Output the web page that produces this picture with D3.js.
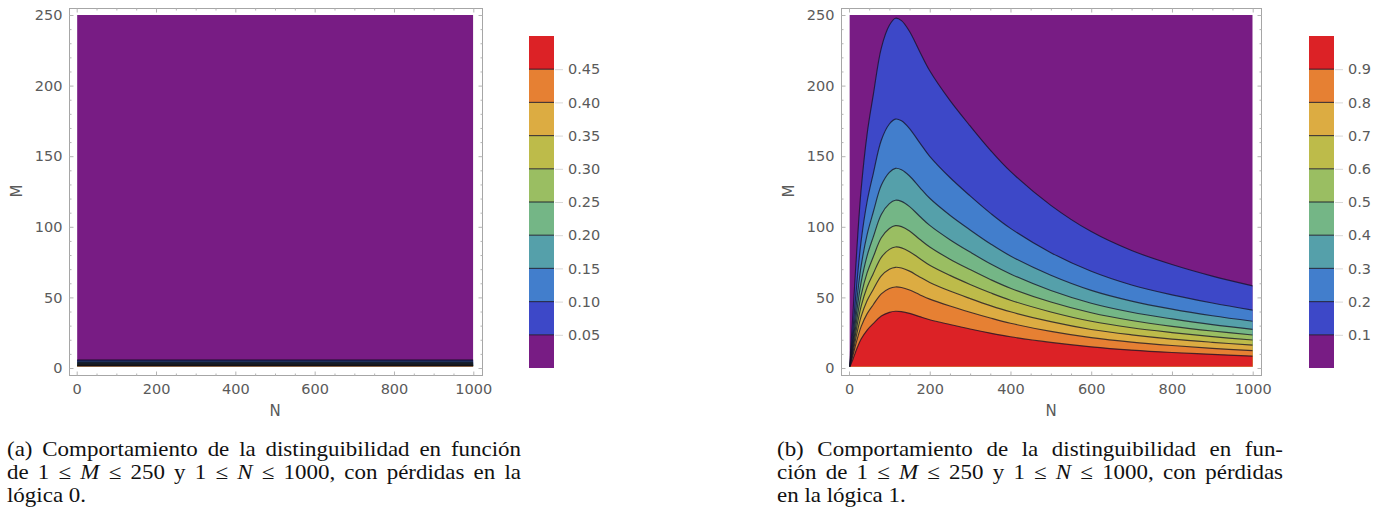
<!DOCTYPE html>
<html>
<head>
<meta charset="utf-8">
<script src="https://cdn.jsdelivr.net/npm/d3@7"></script>
<style>
  html, body { margin: 0; padding: 0; background: #fff; }
  svg { display: block; }
</style>
</head>
<body>
<script>
// ---------- data ----------
// N positions at which every contour of panel (b) is sampled
const nSamples = [1, 5, 10, 20, 30, 45, 60, 80, 100, 115, 130, 150, 175, 200, 250, 300, 350, 400, 500, 600, 700, 800, 900, 1000];

// Panel (b): M value of each contour level along nSamples
const levelB10 = [0, 17.3, 39.6, 86.7, 126.3, 166.0, 193.2, 226.6, 242.7, 247.7, 246.0, 238.3, 224.2, 210.5, 189.5, 171.4, 154.3, 139.2, 115.2, 96.6, 83.2, 73.3, 65.1, 58.2];
const levelB20 = [0, 12.3, 28.2, 61.7, 89.9, 118.1, 137.5, 161.3, 172.8, 176.3, 175.1, 169.6, 159.6, 149.9, 134.9, 121.9, 109.7, 98.9, 81.7, 68.5, 58.8, 51.8, 46.0, 41.0];
const levelB30 = [0, 9.9, 22.6, 49.5, 72.1, 94.7, 110.3, 129.4, 138.6, 141.4, 140.4, 136.0, 128.0, 120.2, 108.2, 97.8, 88.0, 79.3, 65.7, 55.0, 47.4, 41.7, 37.0, 33.1];
const levelB40 = [0, 8.3, 19.0, 41.6, 60.6, 79.6, 92.7, 108.7, 116.4, 118.8, 118.0, 114.3, 107.5, 101.0, 90.9, 82.1, 73.8, 66.6, 54.9, 45.9, 39.5, 34.8, 30.7, 27.4];
const levelB50 = [0, 7.1, 16.1, 35.3, 51.4, 67.5, 78.6, 92.2, 98.8, 100.8, 100.1, 97.0, 91.2, 85.7, 77.1, 69.7, 62.7, 56.5, 46.7, 39.1, 33.6, 29.5, 26.2, 23.4];
const levelB60 = [0, 6.0, 13.7, 30.0, 43.7, 57.4, 66.8, 78.4, 84.0, 85.7, 85.1, 82.4, 77.6, 72.8, 65.6, 59.2, 53.3, 48.0, 39.7, 33.1, 28.5, 25.1, 22.2, 19.8];
const levelB70 = [0, 5.0, 11.4, 25.0, 36.4, 47.8, 55.6, 65.2, 69.9, 71.3, 70.8, 68.6, 64.5, 60.6, 54.5, 49.2, 44.2, 39.8, 32.8, 27.3, 23.5, 20.5, 18.2, 16.2];
const levelB80 = [0, 4.0, 9.2, 20.1, 29.3, 38.5, 44.8, 52.5, 56.3, 57.4, 57.0, 55.2, 51.9, 48.8, 43.9, 39.5, 35.4, 31.7, 25.9, 21.5, 18.3, 15.9, 13.9, 12.3];
const levelB90 = [0, 2.8, 6.4, 14.1, 20.5, 26.9, 31.4, 36.8, 39.4, 40.2, 39.9, 38.7, 36.4, 34.2, 30.8, 27.6, 24.7, 22.1, 18.1, 15.0, 12.7, 11.0, 9.7, 8.4];

// Panel (a): the contours do not depend on N, they are flat in M
const nSpanA = [1, 1000];
const levelA05 = [5.6, 5.6];
const levelA10 = [4.8, 4.8];
const levelA15 = [3.9, 3.9];
const levelA20 = [3.2, 3.2];
const levelA25 = [2.6, 2.6];
const levelA30 = [2.1, 2.1];
const levelA35 = [1.75, 1.75];
const levelA40 = [1.45, 1.45];
const levelA45 = [1.2, 1.2];

// Colour legend ticks
const legendTicksA = [0.05, 0.10, 0.15, 0.20, 0.25, 0.30, 0.35, 0.40, 0.45];
const legendTicksB = [0.1, 0.2, 0.3, 0.4, 0.5, 0.6, 0.7, 0.8, 0.9];

// Axis ticks
const mTicks = [0, 50, 100, 150, 200, 250];
const nTicks = [0, 200, 400, 600, 800, 1000];

// Rainbow bands, lowest value first
const bandColors = ["#781c84", "#3d48c8", "#427ecc", "#55a0aa", "#74b686",
                    "#9abe62", "#bdbb4a", "#dcac42", "#e68033", "#dc2226"];

// ---------- drawing ----------
const W = 1394, H = 516;
const svg = d3.select("body").append("svg").attr("width", W).attr("height", H);

const labelFont = "'DejaVu Sans', 'Liberation Sans', sans-serif";
const labelColor = "#5a5a5a";
const tickColor = "#b4b4b4";
const contourStroke = "rgba(20,16,36,0.75)";

const panels = [
  {
    id: "a",
    xRange: [76.7, 473.3],
    frame: { x0: 69, y0: 8, x1: 482, y1: 375 },
    mFloor: 1.2,
    nValues: nSpanA,
    contours: [levelA05, levelA10, levelA15, levelA20, levelA25, levelA30, levelA35, levelA40, levelA45],
    lineStroke: "rgba(12,10,24,0.85)",
    legend: { x: 529, domain: [0, 0.5], ticks: legendTicksA, fmt: d3.format(".2f") },
    mTitleX: 22, nTitleX: 275
  },
  {
    id: "b",
    xRange: [849, 1252.7],
    frame: { x0: 841, y0: 8, x1: 1261, y1: 375 },
    mFloor: 1,
    nValues: nSamples,
    contours: [levelB10, levelB20, levelB30, levelB40, levelB50, levelB60, levelB70, levelB80, levelB90],
    lineStroke: contourStroke,
    legend: { x: 1309, domain: [0, 1], ticks: legendTicksB, fmt: d3.format(".1f") },
    mTitleX: 794, nTitleX: 1051
  }
];

panels.forEach(p => {
  const x = d3.scaleLinear().domain([0, 1000]).range(p.xRange);
  const y = d3.scaleLinear().domain([0, 250]).range([368, 15]);
  const g = svg.append("g");

  // plotting region (N from 1 to 1000, M from about 1 to 250)
  const clipId = "clip-" + p.id;
  g.append("clipPath").attr("id", clipId)
    .append("rect")
    .attr("x", x(1)).attr("y", y(250))
    .attr("width", x(1000) - x(1)).attr("height", y(p.mFloor) - y(250));

  const plot = g.append("g").attr("clip-path", `url(#${clipId})`);
  plot.append("rect")
    .attr("x", x(1)).attr("y", y(250))
    .attr("width", x(1000) - x(1)).attr("height", y(p.mFloor) - y(250))
    .attr("fill", bandColors[0]);

  const pts = arr => arr.map((m, i) => [p.nValues[i], m]);
  const curve = d3.curveCatmullRom.alpha(0.5);

  const area = d3.area()
    .x(d => x(d[0])).y0(y(0)).y1(d => y(d[1]))
    .curve(curve);
  const line = d3.line()
    .x(d => x(d[0])).y(d => y(d[1]))
    .curve(curve);

  p.contours.forEach((c, i) => {
    plot.append("path").attr("d", area(pts(c))).attr("fill", bandColors[i + 1]);
  });
  p.contours.forEach(c => {
    plot.append("path").attr("d", line(pts(c)))
      .attr("fill", "none")
      .attr("stroke", p.lineStroke)
      .attr("stroke-width", 1.15);
  });

  // frame
  const f = p.frame;
  g.append("rect")
    .attr("x", f.x0 + 0.5).attr("y", f.y0 + 0.5)
    .attr("width", f.x1 - f.x0).attr("height", f.y1 - f.y0)
    .attr("fill", "none").attr("stroke", "#a6a6a6").attr("stroke-width", 1);

  const styleAxis = sel => {
    sel.select(".domain").remove();
    sel.selectAll("line").attr("stroke", tickColor);
    sel.selectAll("text").attr("fill", labelColor)
      .style("font-family", labelFont).style("font-size", "14.5px");
  };
  const mMinor = d3.range(0, 251, 10).filter(v => v % 50 !== 0);
  const nMinor = d3.range(0, 1001, 50).filter(v => v % 200 !== 0);
  const intFmt = d3.format("d");

  // left and bottom ticks with labels
  g.append("g").attr("transform", `translate(${f.x0 + 0.5},0)`)
    .call(d3.axisLeft(y).tickValues(mTicks).tickFormat(intFmt).tickSize(-4).tickPadding(7)).call(styleAxis);
  g.append("g").attr("transform", `translate(${f.x0 + 0.5},0)`)
    .call(d3.axisLeft(y).tickValues(mMinor).tickSize(-2).tickFormat("")).call(styleAxis);
  g.append("g").attr("transform", `translate(0,${f.y1 + 0.5})`)
    .call(d3.axisBottom(x).tickValues(nTicks).tickFormat(intFmt).tickSize(-4).tickPadding(8)).call(styleAxis);
  g.append("g").attr("transform", `translate(0,${f.y1 + 0.5})`)
    .call(d3.axisBottom(x).tickValues(nMinor).tickSize(-2).tickFormat("")).call(styleAxis);
  // right and top ticks without labels
  g.append("g").attr("transform", `translate(${f.x1 + 0.5},0)`)
    .call(d3.axisRight(y).tickValues(mTicks).tickSize(-4).tickFormat("")).call(styleAxis);
  g.append("g").attr("transform", `translate(${f.x1 + 0.5},0)`)
    .call(d3.axisRight(y).tickValues(mMinor).tickSize(-2).tickFormat("")).call(styleAxis);
  g.append("g").attr("transform", `translate(0,${f.y0 + 0.5})`)
    .call(d3.axisTop(x).tickValues(nTicks).tickSize(-4).tickFormat("")).call(styleAxis);
  g.append("g").attr("transform", `translate(0,${f.y0 + 0.5})`)
    .call(d3.axisTop(x).tickValues(nMinor).tickSize(-2).tickFormat("")).call(styleAxis);

  // axis titles
  g.append("text")
    .attr("transform", `translate(${p.mTitleX},191) rotate(-90)`)
    .attr("text-anchor", "middle")
    .attr("fill", labelColor).style("font-family", labelFont).style("font-size", "15px")
    .text("M");
  g.append("text")
    .attr("x", p.nTitleX).attr("y", 416)
    .attr("text-anchor", "middle")
    .attr("fill", labelColor).style("font-family", labelFont).style("font-size", "15px")
    .text("N");

  // colour legend
  const L = p.legend;
  const cb = d3.scaleLinear().domain(L.domain).range([368, 36]);
  const step = (L.domain[1] - L.domain[0]) / bandColors.length;
  const barW = 25;
  bandColors.forEach((col, i) => {
    const lo = L.domain[0] + i * step, hi = lo + step;
    g.append("rect")
      .attr("x", L.x).attr("y", cb(hi))
      .attr("width", barW).attr("height", cb(lo) - cb(hi))
      .attr("fill", col);
  });
  L.ticks.forEach(t => {
    g.append("line")
      .attr("x1", L.x).attr("x2", L.x + barW)
      .attr("y1", cb(t)).attr("y2", cb(t))
      .attr("stroke", contourStroke).attr("stroke-width", 1.15);
  });
  const legendAxis = g.append("g").attr("transform", `translate(${L.x + barW + 1},0)`)
    .call(d3.axisRight(cb).tickValues(L.ticks).tickFormat(L.fmt).tickSize(8).tickPadding(5));
  legendAxis.select(".domain").remove();
  legendAxis.selectAll("line").attr("stroke", "#d8d8d8");
  legendAxis.selectAll("text").attr("fill", labelColor)
    .style("font-family", labelFont).style("font-size", "14.5px");
});

// ---------- captions ----------
const capFont = "'Liberation Serif', 'DejaVu Serif', serif";
const capScaleX = 1.12;
const captions = [
  { x: 7, width: 514, lines: [
      { parts: [["(a) Comportamiento de la distinguibilidad en función", false]], justify: true },
      { parts: [["de 1 ≤ ", false], ["M", true], [" ≤ 250 y 1 ≤ ", false], ["N", true], [" ≤ 1000, con pérdidas en la", false]], justify: true },
      { parts: [["lógica 0.", false]], justify: false }
  ]},
  { x: 777, width: 506, lines: [
      { parts: [["(b) Comportamiento de la distinguibilidad en fun-", false]], justify: true },
      { parts: [["ción de 1 ≤ ", false], ["M", true], [" ≤ 250 y 1 ≤ ", false], ["N", true], [" ≤ 1000, con pérdidas", false]], justify: true },
      { parts: [["en la lógica 1.", false]], justify: false }
  ]}
];
const baselines = [456, 479, 502];
captions.forEach(c => {
  c.lines.forEach((ln, i) => {
    const t = svg.append("text")
      .attr("transform", `translate(${c.x},${baselines[i]}) scale(${capScaleX},1)`)
      .attr("fill", "#111")
      .style("font-family", capFont).style("font-size", "20.5px");
    ln.parts.forEach(([s, it]) => {
      t.append("tspan").style("font-style", it ? "italic" : "normal").text(s);
    });
    if (ln.justify) {
      const full = ln.parts.map(d => d[0]).join("");
      const spaces = (full.match(/ /g) || []).length;
      const len = t.node().getComputedTextLength();
      if (spaces > 0) t.attr("word-spacing", (c.width / capScaleX - len) / spaces);
    }
  });
});
</script>
</body>
</html>
